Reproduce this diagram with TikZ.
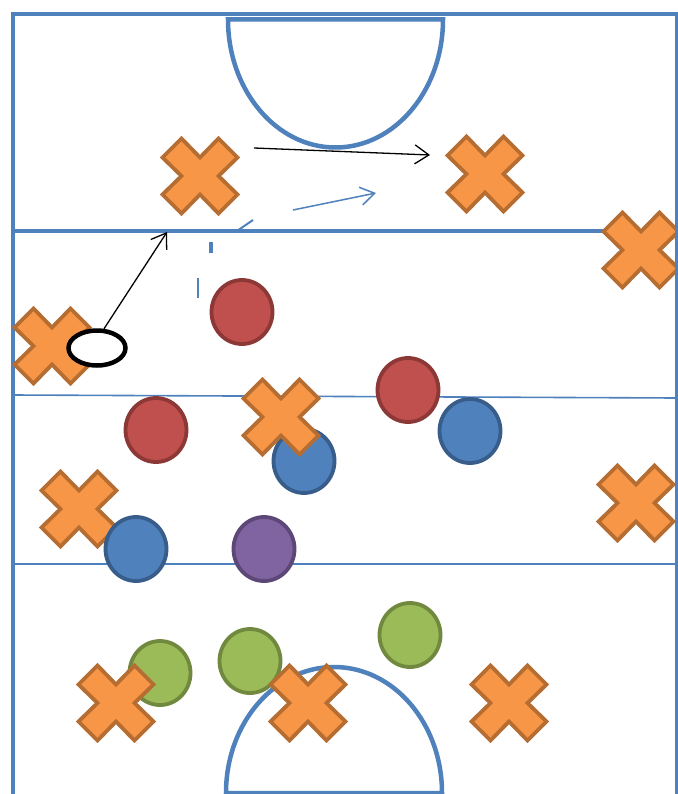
\documentclass[tikz,border=0pt]{standalone}
\usetikzlibrary{arrows.meta,shapes.geometric}
\definecolor{fieldblue}{HTML}{4F81BD}
\definecolor{xfill}{HTML}{F79646}
\definecolor{xline}{HTML}{B66D31}
\definecolor{redfill}{HTML}{C0504D}
\definecolor{redline}{HTML}{8C3836}
\definecolor{bluefill}{HTML}{4F81BD}
\definecolor{blueline}{HTML}{385D8A}
\definecolor{purplefill}{HTML}{8064A2}
\definecolor{purpleline}{HTML}{5C4776}
\definecolor{greenfill}{HTML}{9BBB59}
\definecolor{greenline}{HTML}{71893F}
\tikzset{
  fieldline/.style={draw=fieldblue},
  xstyle/.style={draw=xline, fill=xfill, line width=3.8, line join=miter},
  pics/xmark/.style={code={
    \draw[xstyle] (0,-18.5) -- (18.5,-37.5) -- (37.5,-18.5) -- (18.5,0) -- (37.5,18.5)
      -- (18.5,37.5) -- (0,18.5) -- (-18.5,37.5) -- (-37.5,18.5) -- (-18.5,0)
      -- (-37.5,-18.5) -- (-18.5,-37.5) -- cycle;}},
  player/.style={ellipse, inner sep=0pt, minimum width=61pt, minimum height=64pt, line width=3.8},
  redp/.style={player, draw=redline, fill=redfill},
  bluep/.style={player, draw=blueline, fill=bluefill},
  purplep/.style={player, draw=purpleline, fill=purplefill},
  greenp/.style={player, draw=greenline, fill=greenfill},
  ballst/.style={ellipse, inner sep=0pt, minimum width=57pt, minimum height=35pt, line width=4.5, draw=black, fill=white},
  pass/.style={draw=black, line width=1.3, -{Straight Barb[length=14pt,width=19pt]}},
  run/.style={draw=fieldblue, line width=1.5, -{Straight Barb[length=14pt,width=18pt]}},
  runline/.style={draw=fieldblue, line width=2},
}
\begin{document}
\begin{tikzpicture}[x=1pt,y=-1pt]
\useasboundingbox (0,0) rectangle (677,794);
\fill[white] (0,0) rectangle (677,794);
% field
\draw[fieldline, line width=4] (13,794) -- (13,14) -- (677,14);
\draw[fieldline, line width=3] (13,231) -- (676,231);
\draw[fieldline, line width=1.6] (13,395) -- (676,398);
\draw[fieldline, line width=1.6] (13,564) -- (676,564);
\draw[fieldline, line width=4.5] (228,19.5) arc[start angle=180, end angle=0, x radius=107.5, y radius=128] -- cycle;
\draw[fieldline, line width=4.5] (226,793) arc[start angle=180, end angle=360, x radius=108, y radius=126] -- cycle;
% players under crosses
\node[greenp] (g1) at (160,673) {};
\node[greenp] (g2) at (250,661) {};
\node[greenp] (g3) at (410,635) {};
\node[bluep] (b1) at (304,461) {};
% crosses
\pic at (200,176) {xmark};
\pic at (485,174) {xmark};
\pic at (641,250) {xmark};
\pic at (52,346) {xmark};
\pic at (281,417) {xmark};
\pic at (79,509) {xmark};
\pic at (636,503) {xmark};
\pic at (116,703) {xmark};
\pic at (308,703) {xmark};
\pic at (509,703) {xmark};
% players over crosses
\node[redp] (r1) at (242,312) {};
\node[redp] (r2) at (156,430) {};
\node[redp] (r3) at (408,390) {};
\node[bluep] (b2) at (470,431) {};
\node[bluep] (b3) at (136,549) {};
\node[purplep] (pu) at (264,549) {};
% ball
\node[ballst] (ball) at (97,348) {};
% arrows
\coordinate (pa) at (254,148);
\coordinate (pb) at (430,155);
\coordinate (pc) at (167,232);
\coordinate (ra) at (293,210);
\coordinate (rb) at (376,193);
\draw[pass] (pa) -- (pb);
\draw[pass] (ball.70) -- (pc);
\draw[run] (ra) -- (rb);
% dashed run
\coordinate (d1) at (237,231);
\coordinate (d2) at (253,220);
\coordinate (d3) at (211,242);
\coordinate (d4) at (211,253);
\coordinate (d5) at (198,278);
\coordinate (d6) at (198,298);
\draw[runline] (d1) -- (d2);
\draw[runline, line width=3.2] (d3) -- (d4);
\draw[runline] (d5) -- (d6);
% right border
\draw[fieldline, line width=3] (676,12) -- (676,794);
\end{tikzpicture}
\end{document}
